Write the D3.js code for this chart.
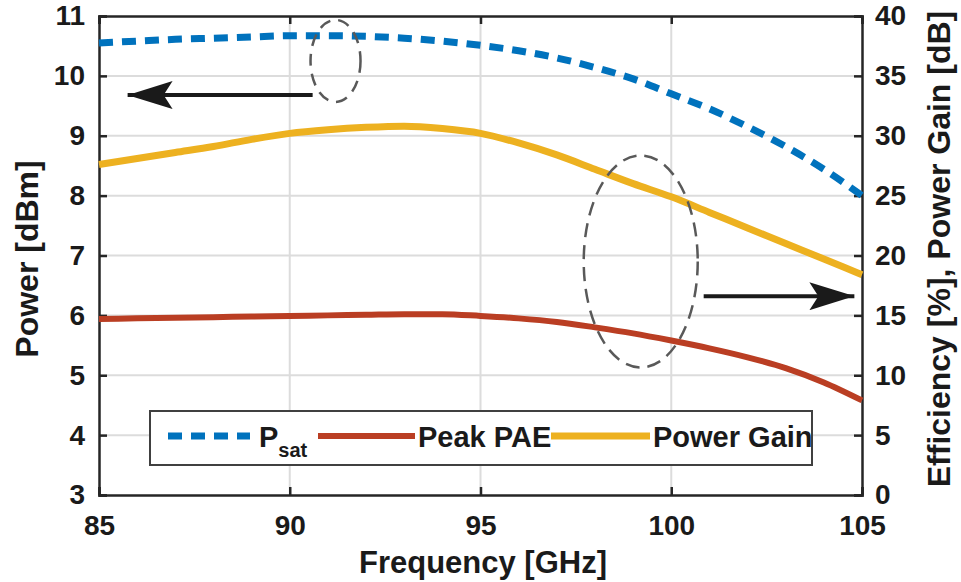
<!DOCTYPE html>
<html>
<head>
<meta charset="utf-8">
<script src="https://cdn.jsdelivr.net/npm/d3@7"></script>
<style>
  body { margin: 0; background: #fff; }
  text { font-family: "Liberation Sans", Arial, sans-serif; font-weight: bold; fill: #1a1a1a; }
</style>
</head>
<body>
<div id="chart"></div>
<script>
// Data
const freq = [85, 86, 87, 88, 89, 90, 91, 92, 93, 94, 95, 96, 97, 98, 99, 100, 101, 102, 103, 104, 105];
const psat = [10.55, 10.58, 10.61, 10.63, 10.65, 10.67, 10.67, 10.66, 10.63, 10.58, 10.51, 10.42, 10.3, 10.14, 9.95, 9.7, 9.45, 9.15, 8.82, 8.44, 8.0];
const peakPae = [14.7, 14.75, 14.8, 14.85, 14.9, 14.95, 15.0, 15.05, 15.1, 15.1, 14.95, 14.75, 14.45, 14.0, 13.5, 12.9, 12.25, 11.5, 10.6, 9.4, 7.9];
const powerGain = [27.6, 28.1, 28.6, 29.1, 29.7, 30.2, 30.5, 30.7, 30.8, 30.6, 30.2, 29.4, 28.4, 27.2, 26.0, 24.9, 23.6, 22.3, 21.0, 19.7, 18.4];

const xTicks = [85, 90, 95, 100, 105];
const yLeftTicks = [3, 4, 5, 6, 7, 8, 9, 10, 11];
const yRightTicks = [0, 5, 10, 15, 20, 25, 30, 35, 40];

const W = 961, H = 582;
const margin = { top: 16, right: 99, bottom: 87, left: 99 };
const width = W - margin.left - margin.right;
const height = H - margin.top - margin.bottom;

const svg = d3.select("#chart").append("svg")
    .attr("width", W)
    .attr("height", H);

const g = svg.append("g")
    .attr("transform", `translate(${margin.left},${margin.top})`);

const x = d3.scaleLinear().domain([85, 105]).range([0, width]);
const yL = d3.scaleLinear().domain([3, 11]).range([height, 0]);
const yR = d3.scaleLinear().domain([0, 40]).range([height, 0]);

// Grid
g.append("g").selectAll("line.gx")
    .data(xTicks.slice(1, -1))
    .enter().append("line")
    .attr("x1", d => x(d)).attr("x2", d => x(d))
    .attr("y1", 0).attr("y2", height)
    .attr("stroke", "#dcdcdc").attr("stroke-width", 2);
g.append("g").selectAll("line.gy")
    .data(yLeftTicks.slice(1, -1))
    .enter().append("line")
    .attr("x1", 0).attr("x2", width)
    .attr("y1", d => yL(d)).attr("y2", d => yL(d))
    .attr("stroke", "#dcdcdc").attr("stroke-width", 2);

// Axes
const xAxis = g.append("g")
    .attr("transform", `translate(0,${height})`)
    .call(d3.axisBottom(x).tickValues(xTicks).tickSize(-8).tickPadding(20));
const xTop = g.append("g")
    .call(d3.axisTop(x).tickValues(xTicks).tickSize(-8).tickFormat(() => ""));
const yAxisL = g.append("g")
    .call(d3.axisLeft(yL).tickValues(yLeftTicks).tickSize(-8).tickPadding(14));
const yAxisR = g.append("g")
    .attr("transform", `translate(${width},0)`)
    .call(d3.axisRight(yR).tickValues(yRightTicks).tickSize(-8).tickPadding(13));

[xAxis, xTop, yAxisL, yAxisR].forEach(a => {
    a.selectAll(".domain").attr("stroke", "#262626").attr("stroke-width", 2.5);
    a.selectAll(".tick line").attr("stroke", "#262626").attr("stroke-width", 2.5);
    a.selectAll(".tick text").style("font-size", "28px").attr("fill", "#1a1a1a");
});
xAxis.selectAll(".tick text").attr("dy", "0.71em");

// Lines
const lineL = d3.line().curve(d3.curveMonotoneX)
    .x((d, i) => x(freq[i])).y(d => yL(d));
const lineR = d3.line().curve(d3.curveMonotoneX)
    .x((d, i) => x(freq[i])).y(d => yR(d));

g.append("path").datum(powerGain)
    .attr("d", lineR).attr("fill", "none")
    .attr("stroke", "#EDB120").attr("stroke-width", 7);
g.append("path").datum(peakPae)
    .attr("d", lineR).attr("fill", "none")
    .attr("stroke", "#BA3E23").attr("stroke-width", 6);
g.append("path").datum(psat)
    .attr("d", lineL).attr("fill", "none")
    .attr("stroke", "#0072BD").attr("stroke-width", 7)
    .attr("stroke-dasharray", "14,9");

// Annotations: ellipses and arrows
svg.append("defs").append("marker")
    .attr("id", "arrow")
    .attr("viewBox", "0 0 45 28")
    .attr("refX", 45).attr("refY", 14)
    .attr("markerWidth", 45).attr("markerHeight", 28)
    .attr("markerUnits", "userSpaceOnUse")
    .attr("orient", "auto")
    .append("path")
    .attr("d", "M0,0 L45,14 L0,28 L9,14 Z")
    .attr("fill", "#1a1a1a");

g.append("ellipse")
    .attr("cx", x(91.2)).attr("cy", yL(10.25))
    .attr("rx", 25).attr("ry", 41)
    .attr("fill", "none").attr("stroke", "#595959")
    .attr("stroke-width", 2.5).attr("stroke-dasharray", "12,8");
g.append("line")
    .attr("x1", x(90.6)).attr("y1", yL(9.68))
    .attr("x2", x(85.75)).attr("y2", yL(9.68))
    .attr("stroke", "#1a1a1a").attr("stroke-width", 4)
    .attr("marker-end", "url(#arrow)");

g.append("ellipse")
    .attr("cx", x(99.2)).attr("cy", yR(19.5))
    .attr("rx", 57).attr("ry", 106)
    .attr("fill", "none").attr("stroke", "#595959")
    .attr("stroke-width", 2.5).attr("stroke-dasharray", "14,8");
g.append("line")
    .attr("x1", x(100.85)).attr("y1", yR(16.6))
    .attr("x2", x(104.8)).attr("y2", yR(16.6))
    .attr("stroke", "#1a1a1a").attr("stroke-width", 4)
    .attr("marker-end", "url(#arrow)");

// Axis titles
svg.append("text")
    .attr("x", 483).attr("y", 573)
    .attr("text-anchor", "middle")
    .style("font-size", "31px")
    .text("Frequency [GHz]");
svg.append("text")
    .attr("transform", `translate(38,259) rotate(-90)`)
    .attr("text-anchor", "middle")
    .style("font-size", "32px")
    .text("Power [dBm]");
svg.append("text")
    .attr("transform", `translate(950,249) rotate(-90)`)
    .attr("text-anchor", "middle")
    .style("font-size", "32px")
    .text("Efficiency [%], Power Gain [dB]");

// Legend
const legend = svg.append("g");
legend.append("rect")
    .attr("x", 150).attr("y", 411).attr("width", 662).attr("height", 54)
    .attr("fill", "#fff").attr("stroke", "#404040").attr("stroke-width", 2);

const legendItems = [
    { label: "P", sub: "sat", color: "#0072BD", dash: "14,9", w: 7, x0: 168, x1: 250, tx: 259 },
    { label: "Peak PAE", color: "#BA3E23", dash: null, w: 6, x0: 318, x1: 415, tx: 418 },
    { label: "Power Gain", color: "#EDB120", dash: null, w: 7, x0: 551, x1: 650, tx: 653 }
];
legendItems.forEach(d => {
    legend.append("line")
        .attr("x1", d.x0).attr("x2", d.x1)
        .attr("y1", 436).attr("y2", 436)
        .attr("stroke", d.color).attr("stroke-width", d.w)
        .attr("stroke-dasharray", d.dash);
    const t = legend.append("text")
        .attr("x", d.tx).attr("y", 447)
        .style("font-size", "29px")
        .text(d.label);
    if (d.sub) {
        t.append("tspan")
            .attr("dy", 10)
            .style("font-size", "20px")
            .text(d.sub);
    }
});
</script>
</body>
</html>
